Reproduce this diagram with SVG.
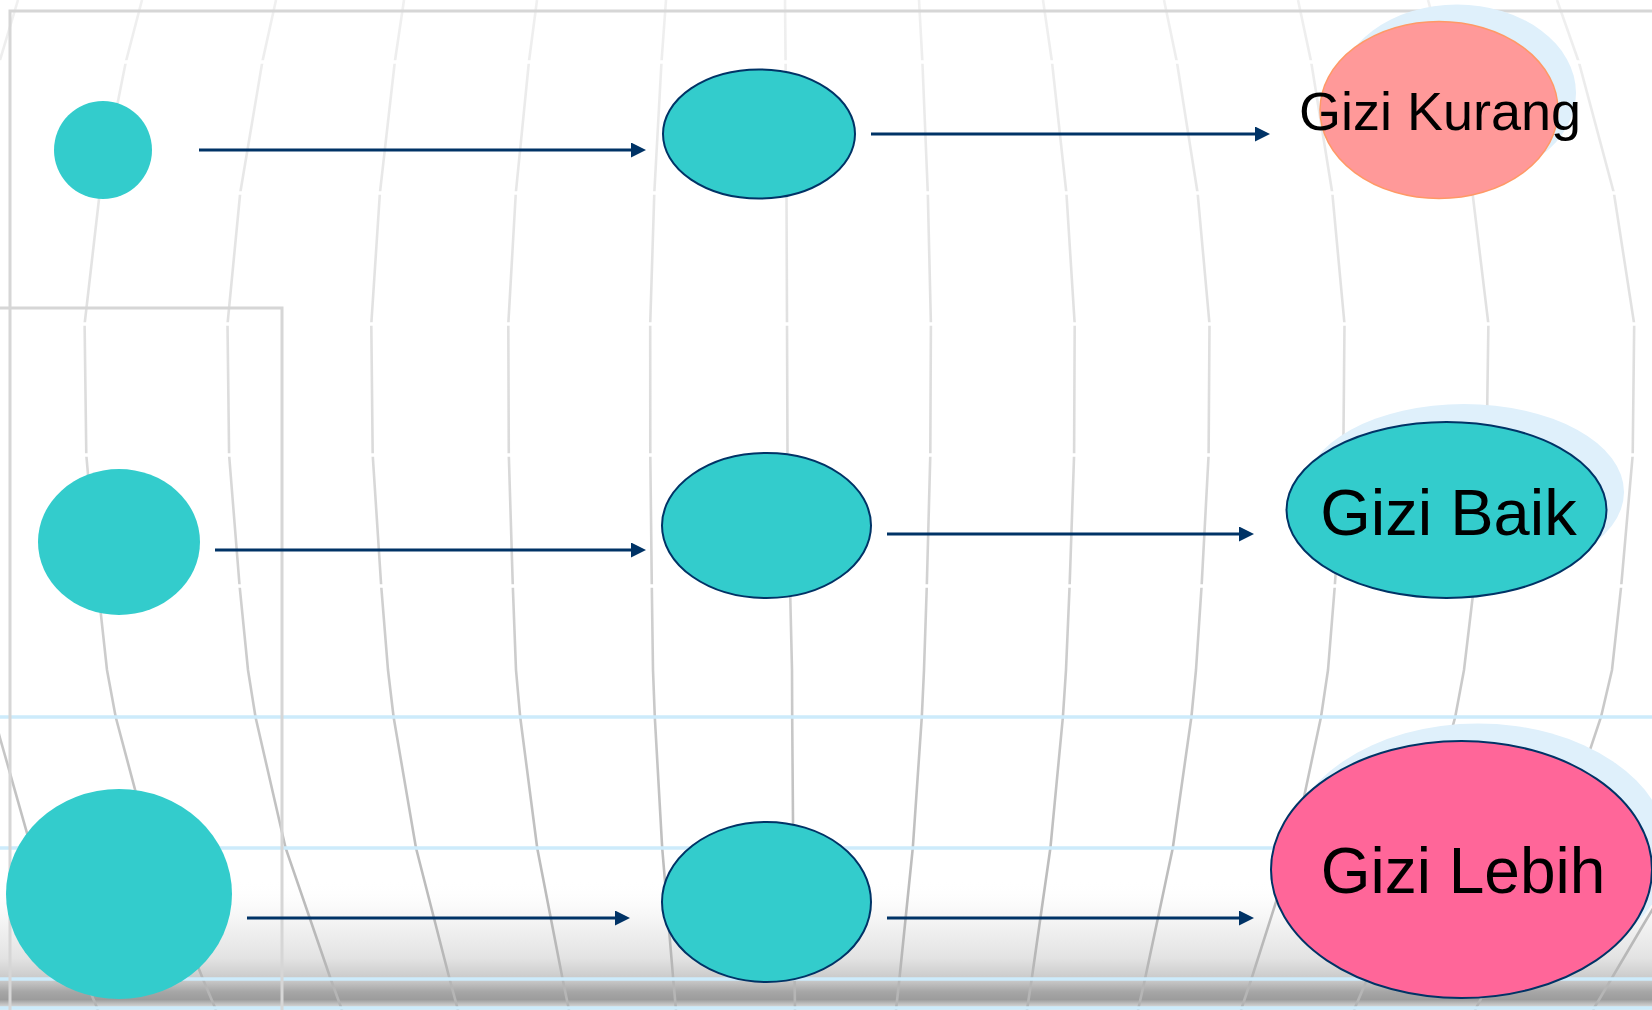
<svg xmlns="http://www.w3.org/2000/svg" width="1652" height="1010" viewBox="0 0 1652 1010">
  <defs>
    <linearGradient id="gridStroke" gradientUnits="userSpaceOnUse" x1="0" y1="0" x2="0" y2="1010">
      <stop offset="0" stop-color="#F0F0F0"/>
      <stop offset="0.45" stop-color="#DADADA"/>
      <stop offset="1" stop-color="#B4B4B4"/>
    </linearGradient>
    <linearGradient id="floor" x1="0" y1="0" x2="0" y2="1">
      <stop offset="0" stop-color="#FFFFFF" stop-opacity="0"/>
      <stop offset="0.3" stop-color="#F5F5F5"/>
      <stop offset="0.6" stop-color="#E3E3E3"/>
      <stop offset="0.78" stop-color="#C6C6C6"/>
      <stop offset="0.86" stop-color="#A6A6A6"/>
      <stop offset="0.92" stop-color="#9C9C9C"/>
      <stop offset="0.95" stop-color="#BDBDBD"/>
      <stop offset="1" stop-color="#EEEEEE"/>
    </linearGradient>
    <marker id="arrow" markerUnits="userSpaceOnUse" markerWidth="15" markerHeight="15" refX="3" refY="7.5" orient="auto">
      <path d="M0,0 L15,7.5 L0,15 Z" fill="#003366"/>
    </marker>
  </defs>
  <style>
    .grid { fill: none; stroke: url(#gridStroke); stroke-width: 2.6; }
    .gap { stroke: #FFFFFF; stroke-width: 3.5; }
    .blue { stroke: #CDEBFB; stroke-width: 3.5; }
    .frame { fill: none; stroke: #D6D6D6; stroke-width: 3; }
    .teal { fill: #33CCCC; }
    .mid { fill: #33CCCC; stroke: #003366; stroke-width: 2; }
    .shadow { fill: #DFF0FB; }
    .conn { stroke: #003366; stroke-width: 3; fill: none; marker-end: url(#arrow); }
    .label { font-family: "Liberation Sans", Arial, sans-serif; fill: #000000; text-anchor: middle; }
  </style>

  <g id="background">
    <rect x="0" y="0" width="1652" height="1010" fill="#FFFFFF"/>
    <rect x="0" y="880" width="1652" height="130" fill="url(#floor)"/>
    <polyline class="grid" points="18,0 0,60 -20,120"/>
    <polyline class="grid" points="-10,700 0,738 27,833 60,920 98,1010"/>
    <polyline class="grid" points="142,0 125.8,62 99.7,193 84.6,324 86.3,455 97.8,586 107,670 115.7,717 150.6,848 202.9,979 216,1010"/>
    <polyline class="grid" points="276,0 262.3,62 240.2,193 227.5,324 229.1,455 239.6,586 248,670 255.5,717 285.6,848 330.7,979 342,1010"/>
    <polyline class="grid" points="404,0 394.8,62 379.9,193 371.3,324 372.7,455 381.2,586 388,670 393.6,717 416,848 449.6,979 458,1010"/>
    <polyline class="grid" points="537,0 528.9,62 515.8,193 508.3,324 508.8,455 512.8,586 516,670 520.2,717 537.2,848 562.6,979 569,1010"/>
    <polyline class="grid" points="666,0 661.5,62 654.3,193 650.2,324 650.3,455 651.8,586 653,670 654.8,717 662.2,848 673.2,979 676,1010"/>
    <polyline class="grid" points="785,0 785.6,62 786.5,193 787,324 787.5,455 790,586 792,670 792.2,717 793.2,848 794.6,979 795,1010"/>
    <polyline class="grid" points="919,0 922.4,62 927.8,193 930.9,324 930.3,455 926.8,586 924,670 921.8,717 912.8,848 899.4,979 896,1010"/>
    <polyline class="grid" points="1043,0 1052,62 1066.4,193 1074.7,324 1074.1,455 1069.6,586 1066,670 1062.9,717 1050.4,848 1031.7,979 1027,1010"/>
    <polyline class="grid" points="1164,0 1176.9,62 1197.6,193 1209.5,324 1208.6,455 1201.6,586 1196,670 1191.4,717 1172.8,848 1145,979 1138,1010"/>
    <polyline class="grid" points="1298,0 1311.2,62 1332.3,193 1344.5,324 1343.3,455 1334.8,586 1328,670 1321,717 1293.2,848 1251.4,979 1241,1010"/>
    <polyline class="grid" points="1428,0 1445.1,62 1472.5,193 1488.4,324 1486.5,455 1474,586 1464,670 1455.2,717 1420,848 1367.2,979 1354,1010"/>
    <polyline class="grid" points="1557,0 1578.8,62 1613.9,193 1634.2,324 1632.7,455 1621.2,586 1612,670 1601,717 1557.2,848 1491.4,979 1475,1010"/>
    <polyline class="grid" points="1700,830 1642,927 1593,1010"/>
    <line class="gap" x1="0" y1="62" x2="1652" y2="62"/>
    <line class="gap" x1="0" y1="193" x2="1652" y2="193"/>
    <line class="gap" x1="0" y1="324" x2="1652" y2="324"/>
    <line class="gap" x1="0" y1="455" x2="1652" y2="455"/>
    <line class="gap" x1="0" y1="586" x2="1652" y2="586"/>
    <line class="blue" x1="0" y1="717" x2="1652" y2="717"/>
    <line class="blue" x1="0" y1="848" x2="1652" y2="848"/>
    <line class="blue" x1="0" y1="979" x2="1652" y2="979"/>
    <line class="blue" x1="0" y1="1008" x2="1652" y2="1008"/>
    <polyline class="frame" points="10,1010 10,11 1652,11"/>
    <polyline class="frame" points="0,308 282,308 282,1010"/>
  </g>

  <g id="node-left-1"><circle class="teal" cx="103" cy="150" r="49"/></g>
  <g id="node-left-2"><ellipse class="teal" cx="119" cy="542" rx="81" ry="73"/></g>
  <g id="node-left-3"><ellipse class="teal" cx="119" cy="894" rx="113" ry="105"/></g>

  <g id="node-mid-1"><ellipse class="mid" cx="759" cy="134" rx="96" ry="64.5"/></g>
  <g id="node-mid-2"><ellipse class="mid" cx="766.5" cy="525.5" rx="104.5" ry="72.5"/></g>
  <g id="node-mid-3"><ellipse class="mid" cx="766.5" cy="902" rx="104.5" ry="80"/></g>

  <g id="node-gizi-kurang">
    <ellipse class="shadow" cx="1457" cy="93" rx="119" ry="88.5"/>
    <ellipse cx="1439" cy="110" rx="119" ry="88.5" fill="#FF9999" stroke="#FF9966" stroke-width="1.5"/>
    <text class="label" x="1440" y="130" font-size="54">Gizi Kurang</text>
  </g>
  <g id="node-gizi-baik">
    <ellipse class="shadow" cx="1464" cy="492" rx="160" ry="88"/>
    <ellipse cx="1446.5" cy="510" rx="160" ry="88" fill="#33CCCC" stroke="#003366" stroke-width="2"/>
    <text class="label" x="1448.5" y="535" font-size="65">Gizi Baik</text>
  </g>
  <g id="node-gizi-lebih">
    <ellipse class="shadow" cx="1478" cy="852" rx="190.5" ry="128.5"/>
    <ellipse cx="1461.5" cy="869.5" rx="190.5" ry="128.5" fill="#FF6699" stroke="#003366" stroke-width="2"/>
    <text class="label" x="1463" y="893" font-size="64">Gizi Lebih</text>
  </g>

  <g id="connectors">
    <line class="conn" x1="199" y1="150" x2="634" y2="150"/>
    <line class="conn" x1="871" y1="134" x2="1258" y2="134"/>
    <line class="conn" x1="215" y1="550" x2="634" y2="550"/>
    <line class="conn" x1="887" y1="534" x2="1242" y2="534"/>
    <line class="conn" x1="247" y1="918" x2="618" y2="918"/>
    <line class="conn" x1="887" y1="918" x2="1242" y2="918"/>
  </g>
</svg>
